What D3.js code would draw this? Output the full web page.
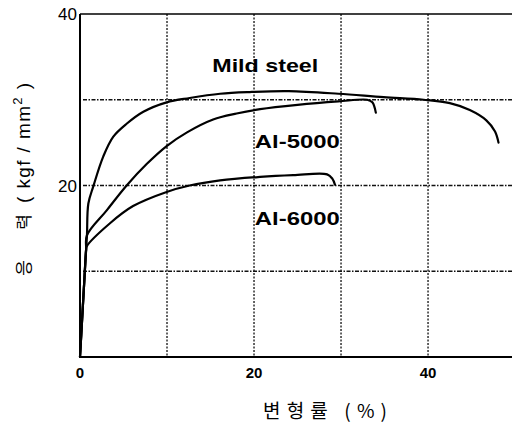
<!DOCTYPE html>
<html><head><meta charset="utf-8">
<script src="https://cdn.jsdelivr.net/npm/d3@7"></script>
<style>
html,body{margin:0;padding:0;background:#fff;}
svg{display:block;}
text{font-family:"Liberation Sans",Arial,sans-serif;fill:#000;}
.kr{font-family:"Noto Sans CJK KR","Noto Sans",sans-serif;}
</style></head>
<body>
<svg id="c" width="512" height="423"></svg>
<script>
// ---- data (strain %, stress kgf/mm^2) ----
const elastic = [[0,0],[0.25,4.5],[0.5,9],[0.7,12.5]];
const mildSteel = [[0.8,14.2],[0.96,17.9],[1.53,19.9],[2.68,23.4],[3.83,25.7],[5.36,27.2],[7.28,28.6],[9.96,29.7],[12.6,30.2],[16.1,30.7],[19.5,30.9],[24,31.0],[29.7,30.7],[34.9,30.3],[39.5,30.0],[42.5,29.6],[44.8,28.8],[46.7,27.6],[47.7,26.3],[48.1,25.0]];
const al5000 = [[0.8,14.2],[3.07,17.1],[5.36,20.0],[7.66,22.5],[9.96,24.6],[12.3,26.2],[15.3,27.7],[18.0,28.4],[20.7,28.9],[25,29.4],[29.7,29.8],[33.0,30.0],[33.6,29.7],[34.0,28.5]];
const al6000 = [[0.77,12.9],[3.45,15.6],[6.1,17.6],[9.96,19.25],[12.6,20.0],[16.1,20.6],[20.7,21.0],[24.5,21.2],[28.4,21.3],[29.0,20.8],[29.3,20.1]];
const seriesNames = ["Mild steel","Al-5000","Al-6000"];
const seriesData = [mildSteel, al5000, al6000];
const labelPos = [[15.2,33.2],[20.1,24.4],[20.1,15.4]]; // data-space anchor for curve labels
const xTicks = [0,20,40];
const yTicks = [20,40];
const xGrid = [10,20,30,40];
const yGrid = [10,20,30];
const xTitle = "변형률 (%)";

const svg = d3.select("#c");
const L=80, R=512, T=14, B=357;
const x = d3.scaleLinear().domain([0,49.65]).range([L,R]);
const y = d3.scaleLinear().domain([0,40]).range([B,T]);

// grid
const g = svg.append("g");
g.selectAll(".vg").data(xGrid).join("line")
  .attr("x1",d=>x(d)).attr("x2",d=>x(d)).attr("y1",T).attr("y2",B)
  .attr("stroke","#111").attr("stroke-width",1.3).attr("stroke-dasharray","2,1.5");
g.selectAll(".hg").data(yGrid).join("line")
  .attr("x1",L+3).attr("x2",R).attr("y1",d=>y(d)).attr("y2",d=>y(d))
  .attr("stroke","#111").attr("stroke-width",1.3).attr("stroke-dasharray","4,1.5,1.5,1.5");

// frame
svg.append("line").attr("x1",L).attr("x2",R).attr("y1",T).attr("y2",T).attr("stroke","#000").attr("stroke-width",1.6);
svg.append("line").attr("x1",L).attr("x2",L).attr("y1",T).attr("y2",B).attr("stroke","#000").attr("stroke-width",2);
svg.append("line").attr("x1",L).attr("x2",R).attr("y1",B).attr("y2",B).attr("stroke","#000").attr("stroke-width",2);

// curves
const line = d3.line().x(d=>x(d[0])).y(d=>y(d[1])).curve(d3.curveCatmullRom.alpha(0.5));
seriesData.forEach(s=>{
  svg.append("path").attr("d", line(elastic.concat(s)))
    .attr("fill","none").attr("stroke","#000").attr("stroke-width",2.2)
    .attr("stroke-linejoin","round").attr("stroke-linecap","round");
});

// curve labels
const labelW = [106,85,85];
seriesNames.forEach((n,i)=>{
  svg.append("text").attr("x",x(labelPos[i][0])).attr("y",y(labelPos[i][1]))
    .attr("font-size",19).attr("font-weight","bold")
    .attr("textLength",labelW[i]).attr("lengthAdjust","spacingAndGlyphs").text(n);
});

// tick labels
svg.selectAll(".xt").data(xTicks).join("text")
  .attr("x",d=>x(d)).attr("y",B+21).attr("text-anchor","middle")
  .attr("font-size",15).attr("font-weight","bold").text(d=>d);
svg.selectAll(".yt").data(yTicks).join("text")
  .attr("x",L-3).attr("y",d=>y(d)+6).attr("text-anchor","end")
  .attr("font-size",17).text(d=>d);

// x title
svg.append("text").attr("class","kr").attr("x",263).attr("y",418)
  .attr("font-size",19).attr("textLength",124).attr("lengthAdjust","spacing").text(xTitle);

// y title (rotated)
const yt = svg.append("g").attr("transform","translate(30,0) rotate(-90)");
yt.append("text").attr("class","kr").attr("x",-268).attr("y",0).attr("text-anchor","middle").attr("font-size",17).text("응");
yt.append("text").attr("class","kr").attr("x",-222).attr("y",0).attr("text-anchor","middle").attr("font-size",17).text("력");
const u = yt.append("text").attr("x",-203).attr("y",0).attr("font-size",19)
  .attr("textLength",120).attr("lengthAdjust","spacing");
u.append("tspan").text("( kgf / mm");
u.append("tspan").attr("dy",-8).attr("font-size",13).text("2");
u.append("tspan").attr("dy",8).text(" )");
</script>
</body></html>
